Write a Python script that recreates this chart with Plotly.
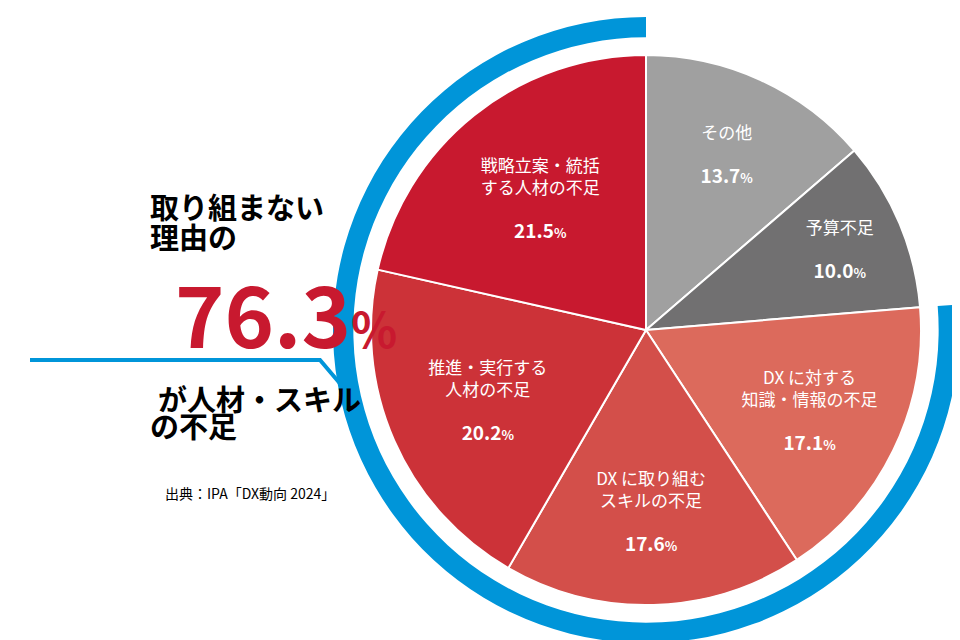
import plotly.graph_objects as go

labels = ["その他", "予算不足", "DX に対する<br>知識・情報の不足", "DX に取り組む<br>スキルの不足",
          "推進・実行する<br>人材の不足", "戦略立案・統括<br>する人材の不足"]
values = [13.7, 10.0, 17.1, 17.6, 20.2, 21.5]
colors = ["#a0a0a0", "#717071", "#dc6a5c", "#d34f4a", "#cc3238", "#c8192f"]
pct_text = ["13.7", "10.0", "17.1", "17.6", "20.2", "21.5"]

ring_values = [23.7, 76.3]
ring_colors = ["rgba(0,0,0,0)", "#0095d9"]

FONT = "Noto Sans CJK JP"
W, H = 960, 640
cx, cy = 638, 322
r_in, r_out = 275, 313

def dom(r):
    return dict(x=[(cx - r) / W, (cx + r) / W], y=[1 - (cy + r) / H, 1 - (cy - r) / H])

fig = go.Figure()

# outer blue ring (76.3% part)
fig.add_trace(go.Pie(
    values=ring_values, sort=False, direction="clockwise", rotation=0,
    marker=dict(colors=ring_colors, line=dict(width=0)),
    hole=0.935, textinfo="none", hoverinfo="skip", domain=dom(r_out), showlegend=False,
))

texts = [f"{l}<br><br><b><span style='font-size:19px'>{p}</span><span style='font-size:13px'>%</span></b>"
         for l, p in zip(labels, pct_text)]
fig.add_trace(go.Pie(
    values=values, labels=labels, text=texts, sort=False, direction="clockwise", rotation=0,
    marker=dict(colors=colors, line=dict(color="white", width=2)),
    texttemplate="%{text}", textposition="inside", insidetextorientation="horizontal",
    textfont=dict(family=FONT, size=17, color="white"),
    domain=dom(r_in), showlegend=False,
))

def note(x, y, t, size, color="black", bold=True):
    fig.add_annotation(x=x / W, y=1 - y / H, xref="paper", yref="paper", showarrow=False,
                       text=f"<b>{t}</b>" if bold else t,
                       font=dict(family=FONT, size=size, color=color))

note(140, 175, "取り組まない", 29)
note(140, 228, "理由の", 29)
note(165, 303, "76.3<span style='font-size:48px'>%</span>", 84, "#c8192f")
note(148, 390, "が人材・スキル", 29)
note(140, 440, "の不足", 29)
note(155, 497, "出典：IPA「DX動向 2024」", 14, bold=False)

# blue pointer line from text to ring
fig.add_shape(type="path", xref="paper", yref="paper",
              path=f"M {22/W} {1-352/H} L {312/W} {1-352/H} L {346/W} {1-392/H}",
              line=dict(color="#0095d9", width=4))

fig.update_layout(width=W, height=H, margin=dict(l=0, r=0, t=0, b=0),
                  paper_bgcolor="white", plot_bgcolor="white", uniformtext=dict(minsize=10))
fig.write_html("out.html")
